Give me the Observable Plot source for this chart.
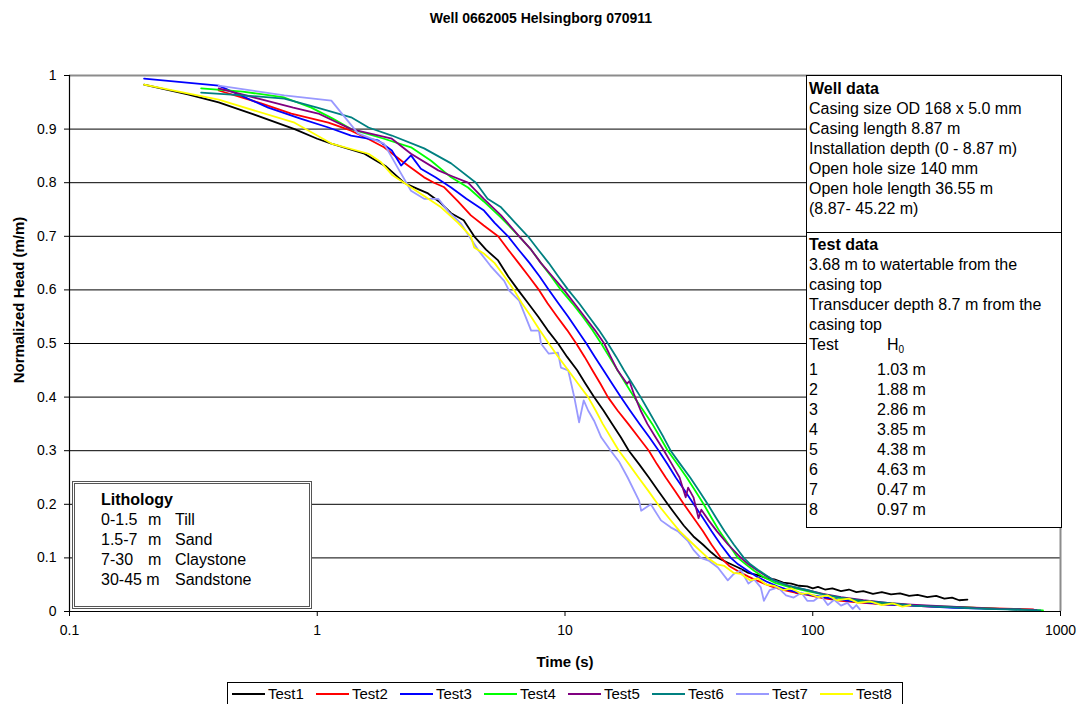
<!DOCTYPE html>
<html><head><meta charset="utf-8">
<script src="https://cdn.jsdelivr.net/npm/d3@7"></script>
<script src="https://cdn.jsdelivr.net/npm/@observablehq/plot@0.6"></script>
<style>
body{margin:0;background:#fff;font-family:"Liberation Sans",Arial,sans-serif;color:#000;}
#wrap{position:relative;width:1082px;height:704px;overflow:hidden;background:#fff;}
#title{position:absolute;left:0;width:1082px;top:10px;text-align:center;font-weight:bold;font-size:14px;line-height:16px;}
#chart{position:absolute;left:0;top:40px;}
.box{position:absolute;background:#fff;border:1px solid #000;box-sizing:border-box;font-size:16px;line-height:20px;white-space:nowrap;}
.box b{font-weight:bold;}
.row2{display:grid;grid-template-columns:68px auto;}
.lith{display:grid;grid-template-columns:47px 27px auto;}
#ylab{position:absolute;left:18px;top:300px;transform:translate(-50%,-50%) rotate(-90deg);white-space:nowrap;font-weight:bold;font-size:15px;}
#xlab{position:absolute;left:565px;top:661px;transform:translate(-50%,-50%);white-space:nowrap;font-weight:bold;font-size:15px;}
#legend{position:absolute;left:227px;top:682px;width:676px;height:23px;border:1px solid #000;box-sizing:border-box;display:flex;align-items:center;padding-left:4px;font-size:15px;}
.li{display:flex;align-items:center;width:84px;flex:0 0 84px;}
.sw{display:inline-block;width:33px;height:2px;margin-right:3px;}
</style></head>
<body>
<div id="wrap">
  <div id="title">Well 0662005 Helsingborg 070911</div>
  <div id="chart"></div>
  <div id="ylab">Normalized Head (m/m)</div>
  <div id="xlab">Time (s)</div>
  <div class="box" style="left:806px;top:75px;width:256px;height:158px;padding:3px 2px;">
    <b>Well data</b><br>Casing size OD 168 x 5.0 mm<br>Casing length 8.87 m<br>Installation depth (0 - 8.87 m)<br>Open hole size 140 mm<br>Open hole length 36.55 m<br>(8.87- 45.22 m)
  </div>
  <div class="box" id="testbox" style="left:806px;top:232px;width:256px;height:296px;padding:2px 2px;"></div>
  <div class="box" id="lithbox" style="left:72px;top:481px;width:240px;height:128px;padding:6px 0 0 26px;border:3px double #555;"></div>
  <div id="legend"></div>
</div>
<script>
// ---- data: [time (s), normalized head (m/m)] ----
const test1 = [[0.2,0.983],[0.3,0.965],[0.4,0.95],[0.55,0.928],[0.81,0.90],[1.0,0.882],[1.14,0.873],[1.55,0.854],[1.9,0.83],[2.24,0.80],[2.5,0.79],[2.8,0.78],[3.1,0.765],[3.47,0.743],[3.9,0.73],[4.3,0.70],[4.8,0.675],[5.37,0.655],[5.9,0.625],[6.46,0.60],[7.1,0.575],[7.8,0.55],[8.5,0.525],[9.37,0.50],[10.2,0.475],[11.2,0.45],[12.1,0.425],[13.1,0.40],[14.3,0.375],[15.5,0.35],[16.8,0.325],[18.1,0.30],[19.9,0.275],[21.8,0.25],[23.8,0.225],[26.0,0.20],[28,0.18],[30.2,0.16],[33,0.14],[36,0.125],[39,0.11],[41.4,0.10],[45,0.092],[50,0.082],[55,0.072],[60,0.068],[65,0.062],[70,0.060],[76,0.054],[82,0.052],[88,0.048],[95,0.047],[100,0.043],[105,0.046],[112,0.041],[120,0.043],[130,0.038],[140,0.041],[150,0.036],[160,0.038],[175,0.033],[190,0.036],[207,0.032],[225,0.034],[245,0.029],[265,0.031],[290,0.027],[315,0.029],[340,0.024],[365,0.026],[390,0.021],[421,0.022]];
const test2 = [[0.4,0.972],[0.594,0.948],[0.786,0.929],[1.11,0.912],[1.37,0.897],[1.6,0.882],[1.86,0.866],[2.2,0.84],[2.70,0.81],[2.96,0.80],[3.24,0.792],[3.7,0.765],[4.17,0.739],[4.7,0.72],[5.37,0.70],[5.9,0.675],[6.5,0.65],[7.15,0.625],[7.85,0.60],[8.5,0.575],[9.3,0.55],[10.2,0.525],[11.1,0.50],[12.0,0.475],[12.9,0.45],[13.9,0.425],[14.9,0.40],[16.3,0.375],[18,0.35],[19.8,0.325],[21.8,0.30],[23.5,0.275],[25.5,0.25],[27.8,0.225],[30.2,0.20],[33,0.175],[36,0.15],[39,0.125],[42.6,0.10],[46,0.085],[50,0.075],[55,0.065],[60,0.057],[67,0.048],[75,0.041],[85,0.035],[95,0.031],[110,0.025],[130,0.02],[160,0.016],[200,0.013],[250,0.011],[300,0.009],[380,0.008],[450,0.007],[550,0.006],[650,0.005],[776,0.004]];
const test3 = [[0.2,0.994],[0.4,0.981],[0.634,0.94],[0.85,0.92],[1.11,0.903],[1.37,0.888],[1.76,0.879],[2.0,0.86],[2.18,0.832],[2.39,0.851],[2.62,0.826],[3.0,0.81],[3.47,0.791],[4.0,0.77],[4.71,0.748],[5.2,0.725],[5.89,0.70],[6.5,0.675],[7.2,0.65],[7.9,0.625],[8.61,0.60],[9.4,0.575],[10.3,0.55],[11.2,0.525],[12.2,0.50],[13.2,0.475],[14.3,0.45],[15.5,0.425],[16.8,0.40],[18.3,0.375],[20,0.35],[21.9,0.325],[23.9,0.30],[25.9,0.275],[28,0.25],[30.5,0.225],[33.1,0.20],[36,0.175],[39,0.15],[42.5,0.125],[46.7,0.10],[50,0.088],[55,0.075],[60,0.064],[65,0.056],[72,0.047],[80,0.04],[90,0.034],[100,0.03],[120,0.024],[140,0.02],[170,0.016],[200,0.013],[250,0.011],[300,0.009],[370,0.007],[450,0.006],[560,0.005],[690,0.004]];
const test4 = [[0.34,0.976],[0.5,0.97],[0.736,0.959],[0.946,0.94],[1.15,0.92],[1.37,0.90],[1.86,0.882],[2.39,0.866],[2.88,0.841],[3.47,0.81],[4.06,0.791],[4.7,0.765],[5.52,0.735],[6.53,0.70],[7.3,0.675],[8,0.65],[8.8,0.625],[9.63,0.60],[10.7,0.575],[11.8,0.55],[12.9,0.525],[14.0,0.50],[15.1,0.475],[16.3,0.45],[17.6,0.425],[19.0,0.40],[20.7,0.375],[22.5,0.35],[24.2,0.325],[26.0,0.30],[28.4,0.275],[31,0.25],[33.6,0.225],[36.3,0.20],[39,0.175],[42,0.15],[45.8,0.125],[49.9,0.10],[54,0.087],[58,0.076],[63,0.065],[70,0.054],[80,0.046],[95,0.038],[110,0.032],[130,0.025],[160,0.019],[200,0.015],[250,0.012],[300,0.01],[400,0.008],[500,0.006],[650,0.004],[850,0.002]];
const test5 = [[0.4,0.976],[0.6,0.955],[0.8,0.94],[1.01,0.929],[1.37,0.90],[2.0,0.882],[2.39,0.854],[3.08,0.823],[3.5,0.812],[4.06,0.80],[4.7,0.77],[5.52,0.739],[6.53,0.70],[7.3,0.675],[8,0.65],[8.9,0.625],[9.9,0.60],[10.9,0.575],[12,0.55],[13.2,0.525],[14.4,0.50],[15.3,0.475],[16.3,0.45],[17.8,0.425],[18.2,0.43],[19,0.405],[20.2,0.375],[21.5,0.35],[23.2,0.325],[25.1,0.30],[27,0.275],[29,0.25],[30.7,0.213],[31.4,0.231],[33,0.213],[34.6,0.174],[35.5,0.19],[38,0.17],[41,0.15],[45.5,0.125],[51.3,0.10],[55,0.088],[60,0.076],[65,0.066],[70,0.058],[80,0.048],[95,0.04],[110,0.033],[130,0.027],[160,0.021],[200,0.016],[250,0.013],[300,0.011],[400,0.008],[500,0.006],[650,0.004],[800,0.003]];
const test6 = [[0.34,0.968],[0.5,0.963],[0.736,0.957],[1.0,0.94],[1.37,0.922],[1.61,0.903],[2.0,0.888],[2.70,0.864],[3.47,0.836],[4.37,0.80],[4.87,0.77],[5.52,0.754],[6.3,0.725],[7.08,0.70],[7.8,0.675],[8.6,0.65],[9.4,0.625],[10.3,0.60],[11.4,0.575],[12.5,0.55],[13.7,0.525],[14.9,0.50],[16.1,0.475],[17.3,0.45],[18.7,0.425],[20.2,0.40],[21.7,0.375],[23.3,0.35],[25,0.325],[26.7,0.30],[29.2,0.275],[32,0.25],[34.8,0.225],[37.7,0.20],[40.7,0.175],[44,0.15],[48,0.125],[52.7,0.10],[56,0.088],[60,0.078],[65,0.067],[69.7,0.058],[80,0.048],[95.5,0.04],[110,0.032],[130,0.026],[160,0.02],[200,0.016],[255,0.011],[320,0.009],[400,0.007],[500,0.005],[600,0.004],[830,0.002]];
const test7 = [[0.4,0.981],[0.736,0.963],[1.14,0.953],[1.46,0.892],[1.86,0.873],[2.1,0.83],[2.39,0.785],[2.70,0.77],[3.08,0.77],[3.4,0.745],[3.8,0.724],[4.47,0.674],[5.0,0.645],[5.68,0.617],[5.94,0.599],[6.53,0.58],[7.3,0.524],[7.85,0.524],[8.0,0.50],[8.6,0.481],[9.37,0.483],[9.63,0.455],[10.3,0.45],[10.9,0.40],[11.4,0.353],[11.9,0.394],[12.4,0.375],[13.1,0.356],[14.0,0.325],[15.3,0.30],[16.5,0.28],[17.9,0.25],[19.9,0.207],[20.3,0.188],[22.2,0.20],[24.4,0.17],[26.7,0.157],[28.5,0.15],[31.3,0.132],[33,0.115],[35.3,0.10],[38,0.095],[41.4,0.082],[45.4,0.058],[48,0.07],[51.3,0.077],[55,0.052],[58,0.06],[61.7,0.045],[63.5,0.02],[67,0.04],[72.3,0.045],[78,0.03],[83.8,0.026],[90,0.035],[95,0.02],[101,0.02],[108,0.03],[115,0.012],[122,0.022],[130,0.011],[138,0.016],[145,0.005],[150,0.012],[155,0.004]];
const test8 = [[0.2,0.983],[0.4,0.955],[0.81,0.912],[1.14,0.873],[1.61,0.854],[1.81,0.838],[2.0,0.815],[2.24,0.80],[2.7,0.775],[3.16,0.754],[3.7,0.725],[4.17,0.70],[4.3,0.679],[4.7,0.668],[5.2,0.65],[5.7,0.625],[6.22,0.60],[6.7,0.575],[7.3,0.55],[7.9,0.525],[8.6,0.50],[9.4,0.475],[10.3,0.45],[11.3,0.425],[12.4,0.40],[13.3,0.375],[14.2,0.35],[15.3,0.325],[16.5,0.30],[18.1,0.275],[19.8,0.25],[21.7,0.225],[23.7,0.20],[26.2,0.175],[29,0.15],[33,0.125],[37.7,0.10],[41,0.088],[44,0.085],[48,0.072],[51.3,0.070],[56,0.058],[60,0.062],[65,0.050],[70,0.048],[76,0.040],[82,0.043],[90,0.033],[95.5,0.034],[105,0.027],[115,0.030],[125,0.021],[140,0.024],[152,0.016],[170,0.019],[190,0.012],[210,0.015],[230,0.009],[248,0.012]];

const seriesNames = ["Test1","Test2","Test3","Test4","Test5","Test6","Test7","Test8"];
const seriesColors = ["#000000","#ff0000","#0000ff","#00ff00","#800080","#008080","#9999ff","#ffff00"];
const seriesValues = [test1,test2,test3,test4,test5,test6,test7,test8];

const xTicks = [0.1, 1, 10, 100, 1000];
const yTicks = [0, 0.1, 0.2, 0.3, 0.4, 0.5, 0.6, 0.7, 0.8, 0.9, 1];

const testNotes = ["3.68 m to watertable from the","casing top","Transducer depth 8.7 m from the","casing top"];
const testIds = ["1","2","3","4","5","6","7","8"];
const testH0 = ["1.03 m","1.88 m","2.86 m","3.85 m","4.38 m","4.63 m","0.47 m","0.97 m"];
const lithDepth = ["0-1.5","1.5-7","7-30","30-45"];
const lithName = ["Till","Sand","Claystone","Sandstone"];

// ---- build ----
const rows = seriesNames.flatMap((name, i) => seriesValues[i].map(([t, h]) => ({series: name, t, h})));

const chart = Plot.plot({
  width: 1082, height: 630,
  marginLeft: 69, marginRight: 22, marginTop: 35, marginBottom: 59,
  style: {fontFamily: "'Liberation Sans', Arial, sans-serif", fontSize: "14px", color: "#000", background: "transparent", overflow: "visible"},
  x: {type: "log", domain: [0.1, 1000]},
  y: {domain: [0, 1]},
  color: {domain: seriesNames, range: seriesColors},
  marks: [
    Plot.ruleY(yTicks.filter(v => v > 0 && v < 1), {stroke: "#000", strokeWidth: 1}),
    Plot.ruleY([1], {stroke: "#8c8c8c", strokeWidth: 2}),
    Plot.ruleX([1000], {stroke: "#8c8c8c", strokeWidth: 2}),
    Plot.line(rows, {x: "t", y: "h", z: "series", stroke: "series", strokeWidth: 1.8}),
    Plot.axisX({ticks: xTicks, tickSize: 5, tickPadding: 9, tickFormat: d => String(d), label: null, fontSize: 14}),
    Plot.axisY({ticks: yTicks, tickSize: 5, tickPadding: 8, tickFormat: d => String(d), label: null, fontSize: 14}),
    Plot.ruleX([0.1], {stroke: "#000", strokeWidth: 1.2}),
    Plot.ruleY([0], {stroke: "#000", strokeWidth: 1.2})
  ]
});
document.getElementById("chart").appendChild(chart);

// test data box
const tb = document.getElementById("testbox");
tb.innerHTML = "<b>Test data</b><br>" + testNotes.join("<br>") +
  '<div class="row2"><span>Test</span><span style="padding-left:10px">H<sub style="font-size:10px;vertical-align:-3px">0</sub></span>' +
  testIds.map((id, i) => `<span>${id}</span><span>${testH0[i]}</span>`).join("") + "</div>";

// lithology box
const lb = document.getElementById("lithbox");
lb.innerHTML = "<b>Lithology</b>" + '<div class="lith">' +
  lithDepth.map((d, i) => i === 3
    ? `<span style="grid-column:1 / 3">${d} m</span><span>${lithName[i]}</span>`
    : `<span>${d}</span><span>m</span><span>${lithName[i]}</span>`).join("") + "</div>";

// legend
const lg = document.getElementById("legend");
lg.innerHTML = seriesNames.map((n, i) =>
  `<span class="li"><span class="sw" style="background:${seriesColors[i]}"></span>${n}</span>`).join("");
</script>
</body></html>
